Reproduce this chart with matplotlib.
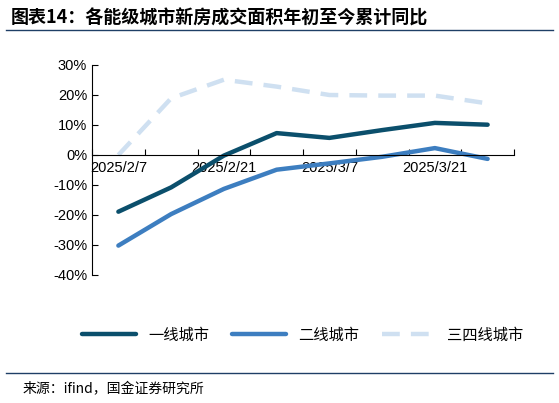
import numpy as np
import matplotlib.pyplot as plt

plt.rcParams['font.family'] = ['Noto Sans CJK SC', 'DejaVu Sans']

labels = ['2025/2/7', '', '2025/2/21', '', '2025/3/7', '', '2025/3/21', '']
tier1 = [-18.9, -10.8, -0.2, 7.3, 5.7, 8.3, 10.7, 10.1]
tier2 = [-30.2, -19.7, -11.3, -4.9, -2.8, -0.6, 2.3, -1.3]
tier34 = [0.0, 18.9, 25.1, 22.8, 20.0, 19.8, 19.8, 17.2]

fig = plt.figure(figsize=(5.59, 4.03), dpi=100)
ax = fig.add_axes([92/559, 1-275/403, 422/559, 210/403])
x = np.arange(len(tier1))
ax.plot(x, tier1, color='#0b4f6c', lw=3.2, label='一线城市', solid_capstyle='round')
ax.plot(x, tier2, color='#3d7ec0', lw=3.2, label='二线城市', solid_capstyle='round')
ax.plot(x, tier34, color='#cfe0f1', lw=3.2, ls=(0, (4, 2.5)), label='三四线城市')
ax.set_xlim(-0.5, 7.5)
ax.set_ylim(-40, 30)
ax.set_yticks(range(-40, 31, 10))
ax.set_yticklabels([f'{v}%' for v in range(-40, 31, 10)], fontsize=10.5, family='Liberation Sans')
ax.spines['bottom'].set_position(('data', 0))
ax.spines['top'].set_visible(False)
ax.spines['right'].set_visible(False)
ax.set_xticks(np.arange(-0.5, 8, 1))
ax.set_xticklabels([])
ax.set_xticks(x, minor=True)
ax.set_xticklabels(labels, minor=True, fontsize=10.5, family='Liberation Sans')
ax.tick_params(axis='x', which='minor', length=0, pad=4)
ax.tick_params(axis='x', which='major', direction='in', length=4)
ax.tick_params(axis='y', direction='in', length=4)
ax.legend(loc='upper center', bbox_to_anchor=(0.5, -0.18), ncol=3, frameon=False,
          fontsize=11, handlelength=3.5, columnspacing=1.5)
fig.text(0.02, 0.955, '图表14：各能级城市新房成交面积年初至今累计同比', fontsize=13,
         fontweight='bold', style='italic', va='center')
fig.add_artist(plt.Line2D([0.01, 0.99], [0.925, 0.925], color='#1f3f66', lw=1))
fig.add_artist(plt.Line2D([0.01, 0.99], [0.075, 0.075], color='#1f3f66', lw=1))
fig.text(0.04, 0.035, '来源：ifind，国金证券研究所', fontsize=10, va='center')
fig.savefig('out.png')
